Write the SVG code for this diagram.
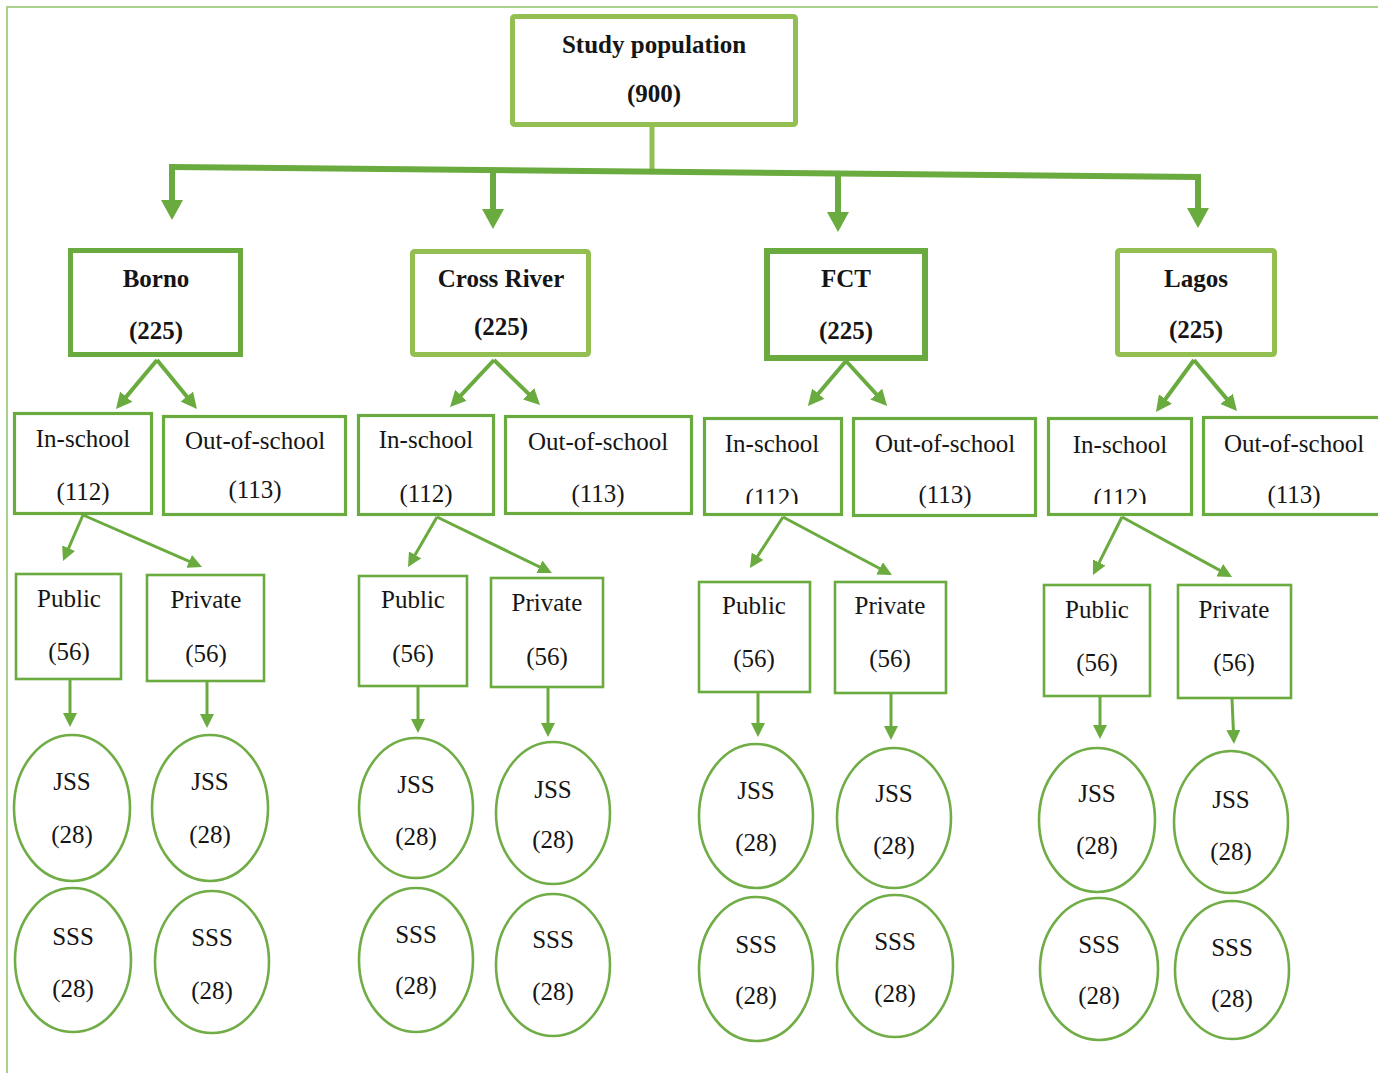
<svg xmlns="http://www.w3.org/2000/svg" width="1378" height="1073" viewBox="0 0 1378 1073">
<style>
.bg{fill:#ffffff}
.frame{stroke:#a9d18e;stroke-width:2;fill:none}
.box{fill:#ffffff}
.light{stroke:#93bf52}
.dark{stroke:#6aab3f}
.b5{stroke-width:5}
.b6{stroke-width:6}
.b3{stroke-width:3.2}
.b25{stroke-width:2.6}
.ell{fill:#ffffff;stroke:#70ad47;stroke-width:2.6}
text{font-family:"Liberation Serif","Times New Roman",serif;font-size:25px;fill:#151515;text-anchor:middle}
.bold{font-weight:bold}
.conn line,.conn path{fill:none;stroke:#6aab3f}
</style>
<defs>
<marker id="big" markerUnits="userSpaceOnUse" markerWidth="20" markerHeight="22" refX="8" refY="11" orient="auto"><path d="M0,0 L20,11 L0,22 z" fill="#6aab3f"/></marker>
<marker id="mid" markerUnits="userSpaceOnUse" markerWidth="16" markerHeight="16" refX="8" refY="8" orient="auto"><path d="M0,0 L16,8 L0,16 z" fill="#6aab3f"/></marker>
<marker id="small" markerUnits="userSpaceOnUse" markerWidth="14" markerHeight="14" refX="7" refY="7" orient="auto"><path d="M0,0 L14,7 L0,14 z" fill="#6aab3f"/></marker>
<clipPath id="clipFCT"><rect x="700" y="470" width="140" height="34"/></clipPath>
<clipPath id="clipLagos"><rect x="1050" y="470" width="140" height="34"/></clipPath>
</defs>
<rect class="bg" x="0" y="0" width="1378" height="1073"/>
<path class="frame" d="M7,1073 L7,7 L1378,7"/>

<g id="connectors" class="conn">
<line x1="652" y1="127" x2="652" y2="172" stroke-width="5" style="stroke:#93bf52"/>
<path d="M169,167 L1198,177 L1198,216" stroke-width="6" stroke-linejoin="miter" marker-end="url(#big)"/>
<line x1="172" y1="164" x2="172" y2="208" stroke-width="6" marker-end="url(#big)"/>
<line x1="493" y1="170" x2="493" y2="217" stroke-width="6" marker-end="url(#big)"/>
<line x1="838" y1="173" x2="838" y2="220" stroke-width="6" marker-end="url(#big)"/>

<line x1="157" y1="360" x2="121.1" y2="402.9" stroke-width="4" marker-end="url(#mid)"/>
<line x1="157" y1="360" x2="191.9" y2="402.8" stroke-width="4" marker-end="url(#mid)"/>
<line x1="494" y1="360" x2="455.5" y2="401.2" stroke-width="4" marker-end="url(#mid)"/>
<line x1="494" y1="360" x2="534.3" y2="399.4" stroke-width="4" marker-end="url(#mid)"/>
<line x1="846" y1="361" x2="813.1" y2="399.8" stroke-width="4" marker-end="url(#mid)"/>
<line x1="846" y1="361" x2="881.7" y2="400.0" stroke-width="4" marker-end="url(#mid)"/>
<line x1="1194" y1="360" x2="1160.7" y2="405.5" stroke-width="4" marker-end="url(#mid)"/>
<line x1="1194" y1="360" x2="1231.8" y2="404.9" stroke-width="4" marker-end="url(#mid)"/>

<line x1="83" y1="515" x2="65.8" y2="554.6" stroke-width="3" marker-end="url(#small)"/>
<line x1="83" y1="515" x2="195.6" y2="564.2" stroke-width="3" marker-end="url(#small)"/>
<line x1="437" y1="517" x2="411.5" y2="560.9" stroke-width="3" marker-end="url(#small)"/>
<line x1="437" y1="517" x2="545.7" y2="569.9" stroke-width="3" marker-end="url(#small)"/>
<line x1="783" y1="517" x2="753.8" y2="562.1" stroke-width="3" marker-end="url(#small)"/>
<line x1="783" y1="517" x2="885.8" y2="571.7" stroke-width="3" marker-end="url(#small)"/>
<line x1="1122" y1="517" x2="1096.1" y2="568.7" stroke-width="3" marker-end="url(#small)"/>
<line x1="1122" y1="517" x2="1225.9" y2="573.6" stroke-width="3" marker-end="url(#small)"/>

<line x1="70" y1="680" x2="70" y2="720" stroke-width="3" marker-end="url(#small)"/>
<line x1="207" y1="682" x2="207" y2="721" stroke-width="3" marker-end="url(#small)"/>
<line x1="418" y1="687" x2="418" y2="726" stroke-width="3" marker-end="url(#small)"/>
<line x1="548" y1="688" x2="548" y2="730" stroke-width="3" marker-end="url(#small)"/>
<line x1="758" y1="693" x2="758" y2="730" stroke-width="3" marker-end="url(#small)"/>
<line x1="891" y1="694" x2="891" y2="733" stroke-width="3" marker-end="url(#small)"/>
<line x1="1100" y1="697" x2="1100" y2="732" stroke-width="3" marker-end="url(#small)"/>
<line x1="1232" y1="699" x2="1233.7" y2="737" stroke-width="3" marker-end="url(#small)"/>
</g>

<g id="study-population"><rect class="box light b5" x="512.5" y="16.5" width="283" height="108" rx="2"/><text class="bold" x="654" y="53">Study population</text><text class="bold" x="654" y="102">(900)</text></g>

<g id="borno"><rect class="box dark b5" x="70.5" y="250.5" width="170" height="104"/><text class="bold" x="156" y="287">Borno</text><text class="bold" x="156" y="339">(225)</text></g>
<g id="cross-river"><rect class="box light b5" x="412.5" y="251.5" width="176" height="103" rx="2"/><text class="bold" x="501" y="287">Cross River</text><text class="bold" x="501" y="335">(225)</text></g>
<g id="fct"><rect class="box dark b6" x="767" y="251" width="158" height="107"/><text class="bold" x="846" y="287">FCT</text><text class="bold" x="846" y="339">(225)</text></g>
<g id="lagos"><rect class="box light b5" x="1117.5" y="250.5" width="157" height="104" rx="2"/><text class="bold" x="1196" y="287">Lagos</text><text class="bold" x="1196" y="338">(225)</text></g>

<g id="borno-in"><rect class="box dark b3" x="14.5" y="413.5" width="137" height="100"/><text x="83" y="447">In-school</text><text x="83" y="500">(112)</text></g>
<g id="borno-out"><rect class="box dark b3" x="163.5" y="416.5" width="182" height="98"/><text x="255" y="449">Out-of-school</text><text x="255" y="498">(113)</text></g>
<g id="cr-in"><rect class="box dark b3" x="358.5" y="415.5" width="135" height="99"/><text x="426" y="448">In-school</text><text x="426" y="502">(112)</text></g>
<g id="cr-out"><rect class="box dark b3" x="505.5" y="416.5" width="186" height="97"/><text x="598" y="450">Out-of-school</text><text x="598" y="502">(113)</text></g>
<g id="fct-in"><rect class="box dark b3" x="704.5" y="418.5" width="137" height="96"/><text x="772" y="452">In-school</text><text x="772" y="506" clip-path="url(#clipFCT)">(112)</text></g>
<g id="fct-out"><rect class="box dark b3" x="853.5" y="418.5" width="182" height="97"/><text x="945" y="452">Out-of-school</text><text x="945" y="503">(113)</text></g>
<g id="lagos-in"><rect class="box dark b3" x="1048.5" y="418.5" width="143" height="96"/><text x="1120" y="453">In-school</text><text x="1120" y="506" clip-path="url(#clipLagos)">(112)</text></g>
<g id="lagos-out"><rect class="box dark b3" x="1203.5" y="417.5" width="185" height="97"/><text x="1294" y="452">Out-of-school</text><text x="1294" y="503">(113)</text></g>

<g id="borno-public"><rect class="box dark b25" x="16" y="574" width="105" height="105"/><text x="69" y="607">Public</text><text x="69" y="660">(56)</text></g>
<g id="borno-private"><rect class="box dark b25" x="147" y="575" width="117" height="106"/><text x="206" y="608">Private</text><text x="206" y="662">(56)</text></g>
<g id="cr-public"><rect class="box dark b25" x="359" y="576" width="108" height="110"/><text x="413" y="608">Public</text><text x="413" y="662">(56)</text></g>
<g id="cr-private"><rect class="box dark b25" x="491" y="578" width="112" height="109"/><text x="547" y="611">Private</text><text x="547" y="665">(56)</text></g>
<g id="fct-public"><rect class="box dark b25" x="699" y="582" width="111" height="110"/><text x="754" y="614">Public</text><text x="754" y="667">(56)</text></g>
<g id="fct-private"><rect class="box dark b25" x="835" y="582" width="111" height="111"/><text x="890" y="614">Private</text><text x="890" y="667">(56)</text></g>
<g id="lagos-public"><rect class="box dark b25" x="1044" y="585" width="106" height="111"/><text x="1097" y="618">Public</text><text x="1097" y="671">(56)</text></g>
<g id="lagos-private"><rect class="box dark b25" x="1178" y="585" width="113" height="113"/><text x="1234" y="618">Private</text><text x="1234" y="671">(56)</text></g>

<g id="borno-public-jss"><ellipse class="ell" cx="72" cy="808" rx="58" ry="73"/><text x="72" y="790">JSS</text><text x="72" y="843">(28)</text></g>
<g id="borno-private-jss"><ellipse class="ell" cx="210" cy="808" rx="58" ry="73"/><text x="210" y="790">JSS</text><text x="210" y="843">(28)</text></g>
<g id="borno-public-sss"><ellipse class="ell" cx="73" cy="960" rx="58" ry="72"/><text x="73" y="945">SSS</text><text x="73" y="997">(28)</text></g>
<g id="borno-private-sss"><ellipse class="ell" cx="212" cy="962" rx="57" ry="71"/><text x="212" y="946">SSS</text><text x="212" y="999">(28)</text></g>

<g id="cr-public-jss"><ellipse class="ell" cx="416" cy="808" rx="57" ry="70"/><text x="416" y="793">JSS</text><text x="416" y="845">(28)</text></g>
<g id="cr-private-jss"><ellipse class="ell" cx="553" cy="813" rx="57" ry="71"/><text x="553" y="798">JSS</text><text x="553" y="848">(28)</text></g>
<g id="cr-public-sss"><ellipse class="ell" cx="416" cy="960" rx="57" ry="72"/><text x="416" y="943">SSS</text><text x="416" y="994">(28)</text></g>
<g id="cr-private-sss"><ellipse class="ell" cx="553" cy="965" rx="57" ry="71"/><text x="553" y="948">SSS</text><text x="553" y="1000">(28)</text></g>

<g id="fct-public-jss"><ellipse class="ell" cx="756" cy="816" rx="57" ry="72"/><text x="756" y="799">JSS</text><text x="756" y="851">(28)</text></g>
<g id="fct-private-jss"><ellipse class="ell" cx="894" cy="818" rx="57" ry="70"/><text x="894" y="802">JSS</text><text x="894" y="854">(28)</text></g>
<g id="fct-public-sss"><ellipse class="ell" cx="756" cy="969" rx="57" ry="72"/><text x="756" y="953">SSS</text><text x="756" y="1004">(28)</text></g>
<g id="fct-private-sss"><ellipse class="ell" cx="895" cy="966" rx="58" ry="71"/><text x="895" y="950">SSS</text><text x="895" y="1002">(28)</text></g>

<g id="lagos-public-jss"><ellipse class="ell" cx="1097" cy="820" rx="58" ry="72"/><text x="1097" y="802">JSS</text><text x="1097" y="854">(28)</text></g>
<g id="lagos-private-jss"><ellipse class="ell" cx="1231" cy="822" rx="57" ry="71"/><text x="1231" y="808">JSS</text><text x="1231" y="860">(28)</text></g>
<g id="lagos-public-sss"><ellipse class="ell" cx="1099" cy="969" rx="59" ry="71"/><text x="1099" y="953">SSS</text><text x="1099" y="1004">(28)</text></g>
<g id="lagos-private-sss"><ellipse class="ell" cx="1232" cy="970" rx="57" ry="69"/><text x="1232" y="956">SSS</text><text x="1232" y="1007">(28)</text></g>
</svg>
